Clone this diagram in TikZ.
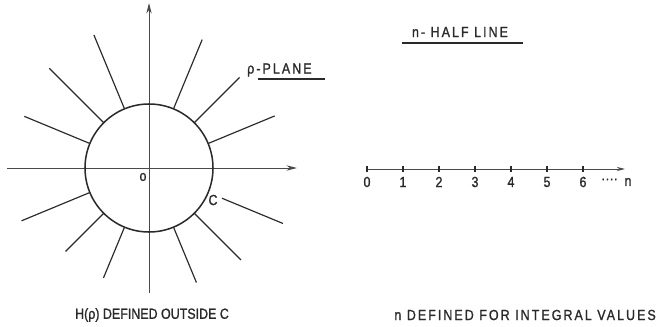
\documentclass[tikz,border=0pt]{standalone}
\usepackage{fontspec}
\setmainfont{Liberation Sans}[FakeStretch=0.85, FakeBold=1.2]
\newfontfamily\widefont{Liberation Sans}[FakeStretch=0.85, FakeBold=1.2, LetterSpace=14]
\usetikzlibrary{positioning,calc,arrows.meta}
\definecolor{inkdark}{HTML}{2A2A2A}
\definecolor{inkaxis}{HTML}{4A4A4A}

\begin{document}
\begin{tikzpicture}[x=0.03cm, y=0.03cm,
  axis/.style={inkaxis, line width=0.8pt},
  ray/.style={inkdark, line width=1pt},
  lbl/.style={font=\fontsize{12.5}{14}\selectfont, text=inkdark, inner sep=0pt},
  widelbl/.style={font=\fontsize{12.5}{14}\selectfont\widefont, text=inkdark, inner sep=0pt},
]
\useasboundingbox (0,0) rectangle (658,326);
\coordinate (ctr) at (149,158);
\draw[axis, -{Stealth[length=9pt,width=4.5pt]}] (149,33) -- (149,323);
\draw[axis, -{Stealth[length=9pt,width=4.5pt]}] (7,158) -- (297,158);
\draw[inkdark, line width=1.3pt] (ctr) circle (64);
\foreach \a/\s/\r in {22.5/64/136, 45/64/128, 67.5/64/139, 112.5/64/144, 135/64/141, 157.5/64/135,
  202.5/64/138, 225/64/118, 247.5/64/119, 292.5/64/124, 315/64/130, 337.5/79/145} {
  \draw[ray, shift={(ctr)}] (\a:\s) -- (\a:\r);
}
\node[lbl] (orig) at (143,149) {o};
\node[lbl] (cname) at (213,126) {C};
\node[widelbl, anchor=west] (plane) at (247,256) {ρ-PLANE};
\draw[ray] (258,247) -- (325,247);
\node[lbl] (leftcap) at (152,11) {H(ρ) DEFINED OUTSIDE C};

\node[widelbl] (halfline) at (460,294) {n- HALF LINE};
\draw[ray] (402,283) -- (523,283);
\draw[axis, -{Stealth[length=7pt,width=3.5pt]}] (367,157) -- (625,157);
\foreach \k in {0,...,6} {
  \draw[ray] (367+36*\k,154) -- (367+36*\k,160);
  \node[lbl] (t\k) at (367+36*\k,144) {\k};
}
\node[lbl, anchor=west] (dots) at (601,145) {····};
\node[lbl] (nname) at (628,144) {n};
\node[widelbl, anchor=east] (rightcap) at (656,11) {n DEFINED FOR INTEGRAL VALUES};
\end{tikzpicture}
\end{document}
